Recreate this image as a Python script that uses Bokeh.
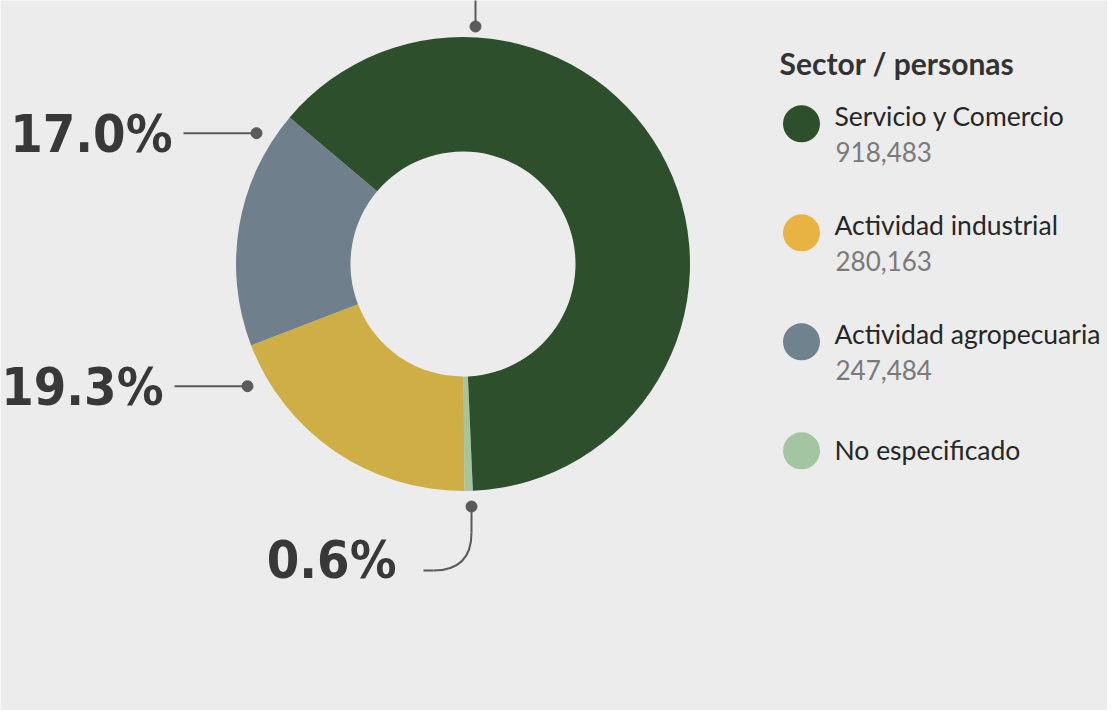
import math
from bokeh.plotting import figure
from bokeh.models import Range1d
from bokeh.core.properties import value
from bokeh.embed import file_html
from bokeh.resources import INLINE

# ---------------- data ----------------
sectors = ["Servicio y Comercio", "Actividad industrial", "Actividad agropecuaria", "No especificado"]
personas = [918483, 280163, 247484, 8730]
legend_numbers = ["918,483", "280,163", "247,484", ""]
legend_colors = ["#2d4f2c", "#e8b342", "#6f828e", "#a3c6a0"]
pie_colors = ["#2d4f2c", "#cfae45", "#6f808c", "#a3c6a0"]
legend_title = "Sector / personas"

# ---------------- layout ----------------
W, H = 1107, 710
BG = "#ececec"
cx, cy = 462.5, 263.5          # pixel coords of donut centre
r_in, r_out = 112.5, 227
draw_order = [3, 1, 2, 0]      # clockwise from start angle
start_cw = 177.5               # degrees clockwise from 12 o'clock

def Y(py):
    return -py

p = figure(width=W, height=H, x_range=Range1d(0, W), y_range=Range1d(-H, 0),
           output_backend="svg", toolbar_location=None, min_border=0)
p.axis.visible = False
p.grid.visible = False
p.outline_line_color = None
p.background_fill_color = BG
p.border_fill_color = BG

total = float(sum(personas))
starts, ends, cols = [], [], []
cum = 0.0
for i in draw_order:
    a = start_cw + cum / total * 360.0
    b = a + personas[i] / total * 360.0
    cum += personas[i]
    starts.append(math.radians(90 - b))
    ends.append(math.radians(90 - a))
    cols.append(pie_colors[i])

p.annular_wedge(x=[cx] * 4, y=[Y(cy)] * 4, inner_radius=r_in, outer_radius=r_out,
                start_angle=starts, end_angle=ends, direction="anticlock",
                fill_color=cols, line_color=None)

pct = [f"{v / total * 100:.1f}%" for v in personas]

LINE = "#5a5a5a"
LABEL = "#383838"
big_font = value("DejaVu Sans Condensed")
BIG = "52px"

# 17.0% (agropecuaria)
p.segment(x0=183, y0=Y(132.7), x1=256, y1=Y(132.7), line_color=LINE, line_width=2)
p.scatter(x=[256], y=[Y(132.7)], size=11, color=LINE)
p.text(x=[172], y=[Y(133)], text=[pct[2]], text_align="right", text_baseline="middle",
       text_font=big_font, text_font_style="bold", text_font_size=BIG, text_color=LABEL)

# 19.3% (industrial)
p.segment(x0=174, y0=Y(385.7), x1=247, y1=Y(385.7), line_color=LINE, line_width=2)
p.scatter(x=[247], y=[Y(385.7)], size=11, color=LINE)
p.text(x=[163], y=[Y(386)], text=[pct[1]], text_align="right", text_baseline="middle",
       text_font=big_font, text_font_style="bold", text_font_size=BIG, text_color=LABEL)

# 0.6% (no especificado)
p.segment(x0=471, y0=Y(506), x1=471, y1=Y(532), line_color=LINE, line_width=2)
p.quadratic(x0=[471], y0=[Y(532)], x1=[433], y1=[Y(570)], cx=[471], cy=[Y(570)],
            line_color=LINE, line_width=2)
p.segment(x0=433, y0=Y(570), x1=423, y1=Y(570), line_color=LINE, line_width=2)
p.scatter(x=[471], y=[Y(506)], size=11, color=LINE)
p.text(x=[396], y=[Y(559)], text=[pct[3]], text_align="right", text_baseline="middle",
       text_font=big_font, text_font_style="bold", text_font_size=BIG, text_color=LABEL)

# top leader (servicio label, outside view)
p.segment(x0=475, y0=Y(-5), x1=475, y1=Y(26), line_color=LINE, line_width=2)
p.scatter(x=[475], y=[Y(26)], size=11, color=LINE)

# ---------------- legend ----------------
leg_font = value("Lato")
p.text(x=[779], y=[Y(62)], text=[legend_title], text_align="left", text_baseline="alphabetic",
       text_font=leg_font, text_font_style="bold", text_font_size="30px", text_color="#333333")

row0, step = 123.3, 109.0
for k, name in enumerate(sectors):
    yc = row0 + k * step
    p.scatter(x=[801], y=[Y(yc)], size=37, color=legend_colors[k], line_color=None)
    name_base = yc - 8 if legend_numbers[k] else yc - 1
    p.text(x=[834], y=[Y(name_base)], text=[name], text_align="left", text_baseline="alphabetic",
           text_font=leg_font, text_font_size="26.5px", text_color="#262626")
    if legend_numbers[k]:
        p.text(x=[835], y=[Y(yc + 28.5)], text=[legend_numbers[k]], text_align="left",
               text_baseline="alphabetic", text_font=leg_font, text_font_size="26px",
               text_color="#7a7a7a")

open("out.html", "w").write(file_html(p, INLINE))
